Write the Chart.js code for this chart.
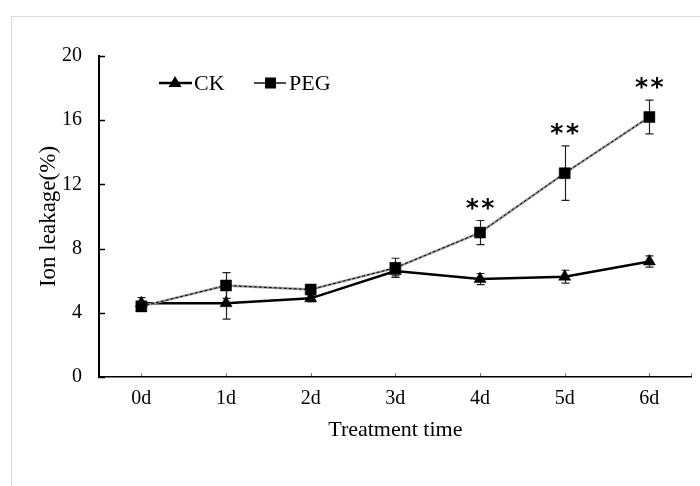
<!DOCTYPE html>
<html>
<head>
<meta charset="utf-8">
<script src="https://cdn.jsdelivr.net/npm/chart.js@4/dist/chart.umd.min.js"></script>
<style>
  html, body { margin: 0; padding: 0; background: #fff; }
  #wrap { width: 700px; height: 486px; position: relative; }
</style>
</head>
<body>
<div id="wrap"><canvas id="c" width="700" height="486"></canvas></div>
<script>
const categories = ['0d', '1d', '2d', '3d', '4d', '5d', '6d'];
const ckValues = [4.6, 4.6, 4.9, 6.6, 6.1, 6.25, 7.2];
const ckErrors = [0.35, 1.0, 0.2, 0.3, 0.35, 0.4, 0.35];
const pegValues = [4.4, 5.7, 5.45, 6.8, 9.0, 12.7, 16.2];
const pegErrors = [0.3, 0.8, 0.3, 0.6, 0.75, 1.7, 1.05];
const significance = ['', '', '', '', '**', '**', '**'];
const yTicks = [0, 4, 8, 12, 16, 20];
const seriesNames = ['CK', 'PEG'];
const axisTitles = { x: 'Treatment time', y: 'Ion leakage(%)' };

const SERIF = '"Liberation Serif", "Times New Roman", serif';

const framePlugin = {
  id: 'frame',
  beforeDraw(chart) {
    const ctx = chart.ctx;
    ctx.save();
    ctx.strokeStyle = '#d9d9d9';
    ctx.lineWidth = 1;
    ctx.strokeRect(11.5, 16.5, 720, 520);
    ctx.restore();
  }
};

const errorBarPlugin = {
  id: 'errorBars',
  beforeDatasetsDraw(chart) {
    const ctx = chart.ctx;
    const xs = chart.scales.x, ys = chart.scales.y;
    const sets = [[ckValues, ckErrors], [pegValues, pegErrors]];
    ctx.save();
    ctx.strokeStyle = '#222';
    ctx.lineWidth = 1.2;
    sets.forEach(([vals, errs]) => {
      vals.forEach((v, i) => {
        const x = Math.round(xs.getPixelForValue(i)) + 0.5;
        const yT = ys.getPixelForValue(v + errs[i]);
        const yB = ys.getPixelForValue(v - errs[i]);
        ctx.beginPath();
        ctx.moveTo(x, yT); ctx.lineTo(x, yB);
        ctx.moveTo(x - 4, yT); ctx.lineTo(x + 4, yT);
        ctx.moveTo(x - 4, yB); ctx.lineTo(x + 4, yB);
        ctx.stroke();
      });
    });
    ctx.restore();
  },
  afterDatasetsDraw(chart) {
    const ctx = chart.ctx;
    const xs = chart.scales.x, ys = chart.scales.y;
    ctx.save();
    ctx.fillStyle = '#000';
    ctx.font = 'bold 25px "DejaVu Sans", sans-serif';
    ctx.textAlign = 'center';
    ctx.textBaseline = 'alphabetic';
    significance.forEach((s, i) => {
      if (!s) return;
      const x = xs.getPixelForValue(i);
      const y = ys.getPixelForValue(pegValues[i] + pegErrors[i]) - 5;
      ctx.fillText(s.split('').join('\u200A'), x, y);
    });
    ctx.restore();
  }
};

const axisDecorPlugin = {
  id: 'axisDecor',
  afterDraw(chart) {
    const ctx = chart.ctx;
    const xs = chart.scales.x, ys = chart.scales.y;
    const area = chart.chartArea;
    ctx.save();
    ctx.strokeStyle = '#000';
    ctx.lineWidth = 1.5;
    yTicks.forEach(t => {
      const y = Math.round(ys.getPixelForValue(t)) + 0.5;
      ctx.beginPath();
      ctx.moveTo(area.left, y); ctx.lineTo(area.left + 6, y);
      ctx.stroke();
    });
    ctx.strokeStyle = '#777';
    ctx.lineWidth = 1;
    const xPts = categories.map((c, i) => xs.getPixelForValue(i)).concat([area.right - 1]);
    xPts.forEach(px => {
      const x = Math.round(px) + 0.5;
      ctx.beginPath();
      ctx.moveTo(x, area.bottom - 1); ctx.lineTo(x, area.bottom - 4);
      ctx.stroke();
    });
    ctx.restore();
  }
};

const legendPlugin = {
  id: 'customLegend',
  afterDraw(chart) {
    const ctx = chart.ctx;
    const y = 83;
    ctx.save();
    ctx.strokeStyle = '#000';
    ctx.lineWidth = 2.5;
    ctx.beginPath(); ctx.moveTo(159, y); ctx.lineTo(192, y); ctx.stroke();
    ctx.fillStyle = '#000';
    ctx.beginPath();
    ctx.moveTo(175, y - 7); ctx.lineTo(181.5, y + 4); ctx.lineTo(168.5, y + 4); ctx.closePath(); ctx.fill();
    ctx.strokeStyle = '#999';
    ctx.lineWidth = 2;
    ctx.beginPath(); ctx.moveTo(254, y); ctx.lineTo(286, y); ctx.stroke();
    ctx.strokeStyle = '#000';
    ctx.lineWidth = 1;
    ctx.beginPath(); ctx.moveTo(254, y); ctx.lineTo(286, y); ctx.stroke();
    ctx.fillRect(265, y - 5.5, 11, 11);
    ctx.font = '22px ' + SERIF;
    ctx.textAlign = 'left';
    ctx.textBaseline = 'middle';
    ctx.fillText(seriesNames[0], 194, y + 1);
    ctx.fillText(seriesNames[1], 289, y + 1);
    ctx.restore();
  }
};

new Chart(document.getElementById('c'), {
  type: 'line',
  data: {
    labels: categories,
    datasets: [
      {
        label: seriesNames[1],
        data: pegValues,
        borderColor: '#000',
        borderWidth: 1,
        borderDash: [3, 2],
        pointStyle: 'rect',
        pointRadius: 7.8,
        pointBackgroundColor: '#000',
        pointBorderColor: '#000',
        pointBorderWidth: 0.5,
        tension: 0,
        fill: false
      },
      {
        label: seriesNames[1] + ' line',
        data: pegValues,
        borderColor: '#9a9a9a',
        borderWidth: 2.5,
        pointRadius: 0,
        tension: 0,
        fill: false
      },
      {
        label: seriesNames[0],
        data: ckValues,
        borderColor: '#000',
        borderWidth: 2.5,
        pointStyle: 'triangle',
        pointRadius: 7,
        pointBackgroundColor: '#000',
        pointBorderColor: '#000',
        pointBorderWidth: 0.5,
        tension: 0,
        fill: false
      }
    ]
  },
  options: {
    responsive: false,
    animation: false,
    devicePixelRatio: 1,
    layout: { padding: { top: 56, right: 5, left: 0, bottom: 0 } },
    plugins: {
      legend: { display: false },
      tooltip: { enabled: false }
    },
    scales: {
      x: {
        type: 'category',
        offset: true,
        grid: { display: true, drawOnChartArea: false, drawTicks: false },
        border: { display: true, color: '#000', width: 1.5 },
        ticks: { color: '#000', font: { family: SERIF, size: 20 }, padding: 10, maxRotation: 0 },
        title: { display: true, text: axisTitles.x, color: '#000', font: { family: SERIF, size: 22 }, padding: { top: 0, bottom: 43 } },
        afterFit(scale) { scale.height = 109; }
      },
      y: {
        min: 0, max: 20,
        afterBuildTicks(scale) { scale.ticks = yTicks.map(v => ({ value: v })); },
        grid: { display: true, drawOnChartArea: false, drawTicks: false },
        border: { display: true, color: '#000', width: 2 },
        ticks: { color: '#000', font: { family: SERIF, size: 20 }, padding: 17 },
        title: { display: true, text: axisTitles.y, color: '#000', font: { family: SERIF, size: 23 }, padding: { top: 35, bottom: 0 } },
        afterFit(scale) { scale.width = 99; }
      }
    }
  },
  plugins: [framePlugin, errorBarPlugin, axisDecorPlugin, legendPlugin]
});
</script>
</body>
</html>
